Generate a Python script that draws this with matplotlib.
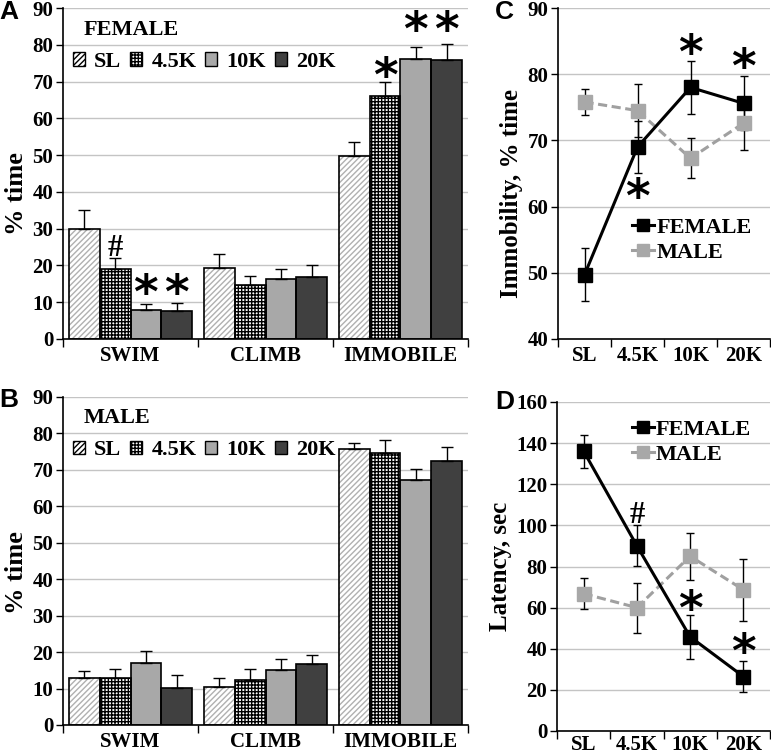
import matplotlib
matplotlib.use("Agg")
import matplotlib.pyplot as plt
import numpy as np
from matplotlib.patches import Patch
from matplotlib.lines import Line2D
from matplotlib.ticker import FixedLocator, NullFormatter

plt.rcParams['font.family'] = ['Liberation Serif', 'DejaVu Serif']
plt.rcParams['font.weight'] = 'bold'
plt.rcParams['hatch.linewidth'] = 1.0

categories = ['SWIM', 'CLIMB', 'IMMOBILE']
groups = ['SL', '4.5K', '10K', '20K']

female_mean = {
    'SL':   [29.8, 19.2, 49.8],
    '4.5K': [19.1, 14.6, 66.1],
    '10K':  [7.9, 16.2, 76.2],
    '20K':  [7.7, 16.9, 75.8],
}
female_err = {
    'SL':   [5.2, 3.9, 3.7],
    '4.5K': [3.0, 2.5, 3.8],
    '10K':  [1.5, 2.9, 3.3],
    '20K':  [2.2, 3.1, 4.4],
}
male_mean = {
    'SL':   [13.0, 10.4, 75.6],
    '4.5K': [13.0, 12.4, 74.5],
    '10K':  [17.1, 15.0, 67.2],
    '20K':  [10.1, 16.8, 72.5],
}
male_err = {
    'SL':   [1.8, 2.5, 1.9],
    '4.5K': [2.5, 2.9, 3.8],
    '10K':  [3.3, 3.0, 3.1],
    '20K':  [3.5, 2.5, 3.9],
}

# line charts
immob_f = [49.7, 69.0, 78.0, 75.6]
immob_f_err = [4.0, 4.0, 4.0, 4.1]
immob_m = [75.8, 74.5, 67.3, 72.6]
immob_m_err = [2.0, 4.0, 3.0, 4.0]

lat_f = [136.1, 90.1, 45.8, 26.5]
lat_f_err = [8.0, 10.0, 10.7, 7.7]
lat_m = [66.8, 60.0, 85.0, 68.7]
lat_m_err = [7.7, 12.2, 11.4, 15.1]

bar_styles = {
    'SL':   dict(facecolor='white', hatch='//////', edgecolor='#b0b0b0'),
    '4.5K': dict(facecolor='white', hatch='+++++', edgecolor='black'),
    '10K':  dict(facecolor='#a8a8a8', hatch=None, edgecolor='black'),
    '20K':  dict(facecolor='#404040', hatch=None, edgecolor='black'),
}

W, H = 771, 754
fig = plt.figure(figsize=(W / 100, H / 100), dpi=100)

def rect(l, t, r, b):
    return [l / W, 1 - b / H, (r - l) / W, (b - t) / H]

GRID = '#c4c4c4'
TICK_FS = 15

def style_axes(ax, labels, xpad=5):
    n = len(labels)
    ax.set_xlim(-0.5, n - 0.5)
    ax.set_xticks(np.arange(n))
    ax.set_xticklabels(labels)
    ax.xaxis.set_minor_locator(FixedLocator(np.arange(-0.5, n, 1.0)))
    ax.xaxis.set_minor_formatter(NullFormatter())
    ax.tick_params(axis='x', which='major', length=0, pad=xpad, labelsize=TICK_FS)
    ax.tick_params(axis='x', which='minor', direction='out', length=6, width=1.0)
    ax.spines['top'].set_visible(False)
    ax.spines['right'].set_visible(False)
    ax.spines['left'].set_linewidth(1.2)
    ax.spines['bottom'].set_linewidth(1.2)
    ax.yaxis.grid(True, color=GRID, linewidth=1.0)
    ax.set_axisbelow(True)
    ax.tick_params(axis='y', direction='out', length=5, width=1.0, labelsize=TICK_FS, pad=2)

def star(ax, x, y, sym):
    fs = 22 if sym == '#' else 34
    ax.text(x, y, sym, ha='center', va='center', fontsize=fs, fontweight='bold',
            family='DejaVu Sans' if sym == '*' else None, zorder=6)

def bar_panel(ax, means, errs, title, annots, label_y):
    n = len(groups)
    bw = 0.228
    x = np.arange(len(categories))
    for i, g in enumerate(groups):
        pos = x + (i - (n - 1) / 2) * bw
        st = bar_styles[g]
        ax.bar(pos, means[g], width=bw, facecolor=st['facecolor'],
               edgecolor=st['edgecolor'], hatch=st['hatch'], linewidth=0, zorder=2)
        ax.bar(pos, means[g], width=bw, facecolor='none', edgecolor='black', linewidth=1.2, zorder=3)
        ax.errorbar(pos, means[g], yerr=[np.zeros(len(categories)), errs[g]],
                    fmt='none', ecolor='black', elinewidth=1.0, capsize=4, capthick=1.0, zorder=4)
    ax.set_ylim(0, 90)
    ax.set_yticks(np.arange(0, 91, 10))
    style_axes(ax, categories)
    ax.set_ylabel('% time', fontsize=19, fontweight='bold', labelpad=3)
    ax.yaxis.label.set_y(label_y)
    ax.text(0.05, 0.965, title, transform=ax.transAxes, fontsize=16, fontweight='bold',
            va='top', ha='left')
    handles = [Patch(facecolor=bar_styles[g]['facecolor'], edgecolor='black',
                     hatch=bar_styles[g]['hatch'], linewidth=1.0) for g in groups]
    ax.legend(handles, groups, ncol=4, loc='center left', bbox_to_anchor=(0.025, 0.837),
              frameon=False, handlelength=0.55, handleheight=0.55, handletextpad=0.4,
              columnspacing=0.4, borderaxespad=0, borderpad=0,
              prop={'size': 16, 'weight': 'bold'})
    for (ci, gi, sym, yv) in annots:
        star(ax, ci + (gi - (n - 1) / 2) * bw, yv, sym)

axA = fig.add_axes(rect(63, 8, 468, 339))
bar_panel(axA, female_mean, female_err, 'FEMALE',
          [(0, 1, '#', 24.5), (0, 2, '*', 11.8), (0, 3, '*', 11.8),
           (2, 1, '*', 70.8), (2, 2, '*', 83.3), (2, 3, '*', 83.3)], 0.44)
axB = fig.add_axes(rect(63, 397, 468, 725))
bar_panel(axB, male_mean, male_err, 'MALE', [], 0.466)

def line_panel(ax, f, fe, m, me, ylim, ystep, ylabel, label_y, legloc, annots, xpad):
    x = np.arange(len(groups))
    ax.errorbar(x, m, yerr=me, fmt='none', ecolor='black', elinewidth=1.0, capsize=3, zorder=3)
    ax.errorbar(x, f, yerr=fe, fmt='none', ecolor='black', elinewidth=1.0, capsize=3, zorder=3)
    ax.plot(x, m, color='#a0a0a0', linestyle=(0, (3, 1.5)), linewidth=2.2, marker='s',
            markersize=9.5, markerfacecolor='#a8a8a8', markeredgecolor='#a8a8a8', zorder=4)
    ax.plot(x, f, color='black', linewidth=2.2, marker='s', markersize=9.5,
            markerfacecolor='black', markeredgecolor='black', zorder=5)
    ax.set_ylim(*ylim)
    ax.set_yticks(np.arange(ylim[0], ylim[1] + 1, ystep))
    style_axes(ax, groups, xpad)
    ax.set_ylabel(ylabel, fontsize=18, fontweight='bold', labelpad=3)
    ax.yaxis.label.set_y(label_y)
    h = [Line2D([], [], color='black', linewidth=2.2, marker='s', markersize=9),
         Line2D([], [], color='#a0a0a0', linewidth=2.2, marker='s', markersize=9,
                markerfacecolor='#a8a8a8', markeredgecolor='#a8a8a8')]
    ax.legend(h, ['FEMALE', 'MALE'], loc='upper left', bbox_to_anchor=legloc, frameon=False,
              handlelength=1.0, handletextpad=0.1, labelspacing=0.2, borderaxespad=0,
              borderpad=0, prop={'size': 16, 'weight': 'bold'})
    for (xi, sym, yv) in annots:
        star(ax, xi, yv, sym)

axC = fig.add_axes(rect(558, 8, 770, 339))
line_panel(axC, immob_f, immob_f_err, immob_m, immob_m_err, (40, 90), 10,
           'Immobility, % time', 0.441, (0.35, 0.367),
           [(2, '*', 82.8), (3, '*', 80.7), (1, '*', 61.0)], 5)
axD = fig.add_axes(rect(557, 402, 770, 731))
line_panel(axD, lat_f, lat_f_err, lat_m, lat_m_err, (0, 160), 20,
           'Latency, sec', 0.5, (0.35, 0.947),
           [(1, '#', 105), (2, '*', 58), (3, '*', 37)], 3)

for lab, (px, py) in {'A': (9, 12), 'B': (9, 400), 'C': (504, 12), 'D': (505, 402)}.items():
    fig.text(px / W, 1 - py / H, lab, fontsize=19, fontweight='bold', family='Liberation Sans',
             ha='center', va='center')

fig.savefig('out.png', dpi=100)
